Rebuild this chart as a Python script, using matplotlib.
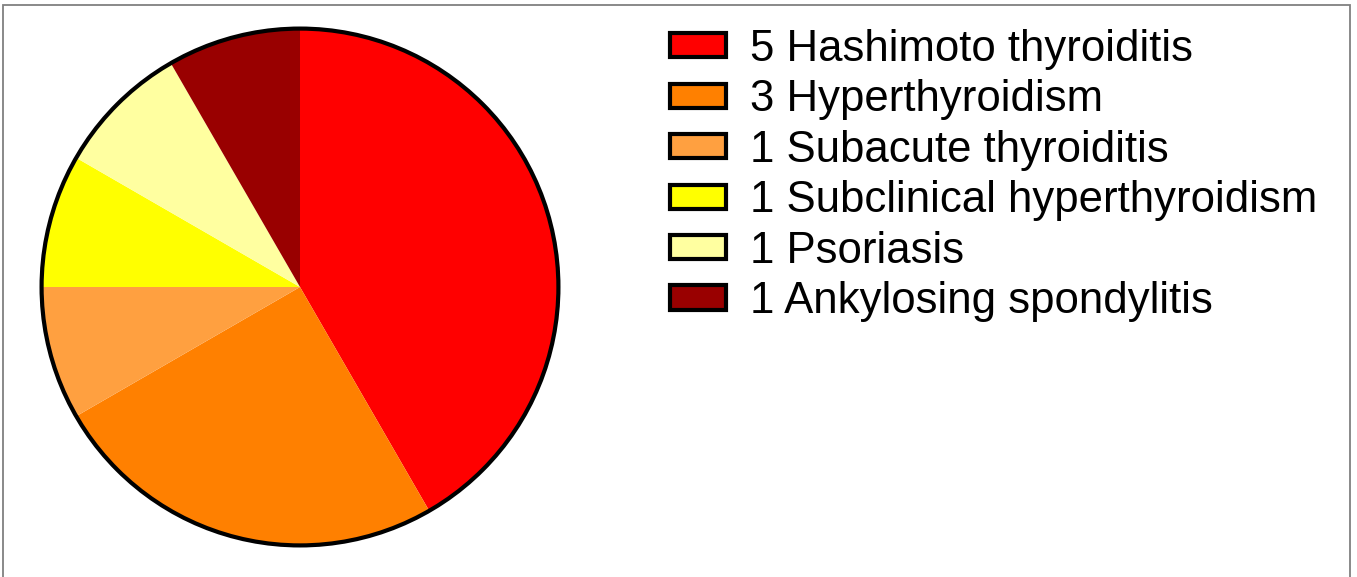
import matplotlib
matplotlib.use("Agg")
import matplotlib.pyplot as plt
from matplotlib.patches import Circle, Patch, Rectangle

plt.rcParams['font.family'] = ['Liberation Sans', 'DejaVu Sans']

labels = ["5 Hashimoto thyroiditis", "3 Hyperthyroidism", "1 Subacute thyroiditis",
          "1 Subclinical hyperthyroidism", "1 Psoriasis", "1 Ankylosing spondylitis"]
counts = [5, 3, 1, 1, 1, 1]
colors = ["#FF0000", "#FF8000", "#FFA040", "#FFFF00", "#FFFFA0", "#990000"]

W, H = 1357, 577
fig = plt.figure(figsize=(W / 100, H / 100), dpi=100)

# pie axes: center (300, 287), radius 261 px
cx, cy, r = 300, 287, 261
ax = fig.add_axes([(cx - r) / W, 1 - (cy + r) / H, 2 * r / W, 2 * r / H])
wedges, _ = ax.pie(counts, colors=colors, startangle=90, counterclock=False,
                   radius=1, wedgeprops=dict(linewidth=0))
ax.add_patch(Circle((0, 0), 1, fill=False, edgecolor="black", linewidth=3.0, zorder=5))
ax.set_xlim(-1.01, 1.01)
ax.set_ylim(-1.01, 1.01)
ax.set_aspect('equal')
ax.axis('off')

handles = [Patch(facecolor=c, edgecolor="black", linewidth=3.0) for c in colors]
fs = 31.5
fig.legend(handles, labels, loc='upper left',
           bbox_to_anchor=(670 / W, 1 - 29 / H), bbox_transform=fig.transFigure,
           frameon=False, fontsize=fs, borderpad=0, borderaxespad=0,
           handlelength=1.27, handleheight=0.47, handletextpad=0.56,
           labelspacing=0.215)

# thin grey frame around the figure
fig.add_artist(Rectangle((2.5 / W, -0.05), (1350 - 2.5) / W, 1.05 - 4.5 / H,
                         transform=fig.transFigure, fill=False,
                         edgecolor="#808080", linewidth=1.3))

fig.savefig("out.png", dpi=100)
